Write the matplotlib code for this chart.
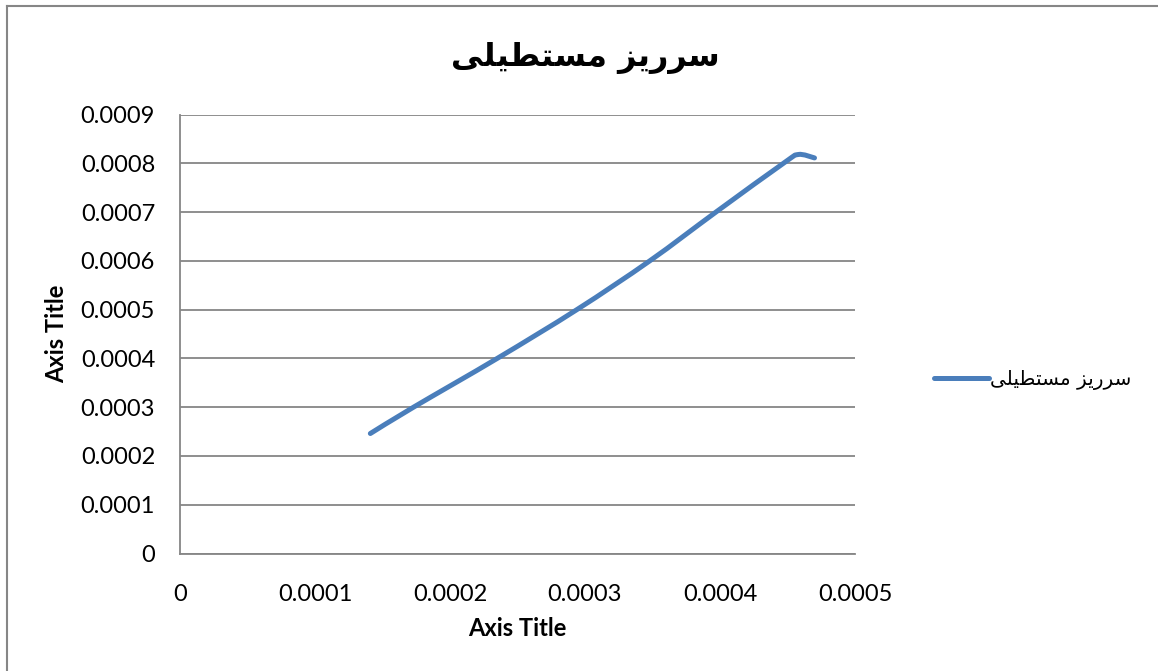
import matplotlib
matplotlib.use("Agg")
import matplotlib.pyplot as plt
from matplotlib.path import Path
from matplotlib.patches import PathPatch
from matplotlib.lines import Line2D
import numpy as np

# Series values (discharge relations for a rectangular weir)
x_vals = [0.000141, 0.000173, 0.000235, 0.000294, 0.000348, 0.000397, 0.000447, 0.000458, 0.000470]
y_vals = [0.000246, 0.000300, 0.000400, 0.000500, 0.000600, 0.000700, 0.000800, 0.000818, 0.000811]

x_ticks = [0, 0.0001, 0.0002, 0.0003, 0.0004, 0.0005]
x_tick_labels = ["0", "0.0001", "0.0002", "0.0003", "0.0004", "0.0005"]
y_ticks = [0, 0.0001, 0.0002, 0.0003, 0.0004, 0.0005, 0.0006, 0.0007, 0.0008, 0.0009]
y_tick_labels = ["0", "0.0001", "0.0002", "0.0003", "0.0004", "0.0005",
                 "0.0006", "0.0007", "0.0008", "0.0009"]

# "سرریز مستطیلی" written with Arabic presentation forms in visual order,
# since the text renderer does no shaping or bidi reordering.
series_name = "\uFEF0\uFEE0\uFEF4\uFEC4\uFE98\uFEB4\uFEE3 \uFEB0\uFEF3\uFEAD\uFEAE\uFEB3"

line_color = "#4A7EBB"
grid_color = "#868686"

W, H = 1158, 671
fig = plt.figure(figsize=(W / 100, H / 100), dpi=100)
fig.patch.set_facecolor("white")

ax = fig.add_axes([180 / W, 1 - 553.5 / H, 675 / W, 439 / H])
ax.set_xlim(0, 0.0005)
ax.set_ylim(0, 0.0009)

# Smoothed curve through the points (Catmull-Rom segments as cubic Beziers)
pts = np.column_stack([x_vals, y_vals])
verts = [tuple(pts[0])]
codes = [Path.MOVETO]
n = len(pts)
for i in range(n - 1):
    p0 = pts[i - 1] if i > 0 else pts[i]
    p1 = pts[i]
    p2 = pts[i + 1]
    p3 = pts[i + 2] if i + 2 < n else pts[i + 1]
    c1 = p1 + (p2 - p0) / 6.0
    c2 = p2 - (p3 - p1) / 6.0
    verts += [tuple(c1), tuple(c2), tuple(p2)]
    codes += [Path.CURVE4] * 3
curve = PathPatch(Path(verts, codes), facecolor="none", edgecolor=line_color,
                  linewidth=3.6, capstyle="round", joinstyle="round", zorder=3)
ax.add_patch(curve)

# Gridlines and axes
ax.set_xticks(x_ticks)
ax.set_xticklabels(x_tick_labels)
ax.set_yticks(y_ticks)
ax.set_yticklabels(y_tick_labels)
ax.yaxis.grid(True, color=grid_color, linewidth=1.3)
ax.xaxis.grid(False)
ax.set_axisbelow(True)
for side in ("top", "right"):
    ax.spines[side].set_visible(False)
for side in ("left", "bottom"):
    ax.spines[side].set_color(grid_color)
    ax.spines[side].set_linewidth(1.3)
ax.tick_params(axis="both", length=0, labelsize=17, colors="black")
ax.tick_params(axis="y", pad=18)
ax.tick_params(axis="x", pad=22)
for lab in ax.get_xticklabels() + ax.get_yticklabels():
    lab.set_fontfamily("Lato")

ax.set_xlabel("Axis Title", fontfamily="Lato", fontweight="bold", fontsize=17,
              va="center", ha="center")
ax.xaxis.set_label_coords((517 - 180) / 675, (553.5 - 628) / 439)
ax.set_ylabel("Axis Title", fontfamily="Lato", fontweight="bold", fontsize=17,
              va="center", ha="center")
ax.yaxis.set_label_coords((57 - 180) / 675, 0.5)

# Chart title
fig.text(585 / W, 1 - 58 / H, series_name, fontsize=23, fontweight="bold",
         fontfamily="DejaVu Sans", ha="center", va="center")

# Legend
handle = Line2D([], [], color=line_color, linewidth=3.6, solid_capstyle="round")
leg = ax.legend([handle], [series_name], loc="center left",
                bbox_to_anchor=(916 / W, 1 - 380 / H), bbox_transform=fig.transFigure,
                frameon=False, handlelength=2.8, handletextpad=0.05,
                prop={"family": "DejaVu Sans", "size": 14.3})

# Chart area border (top and left edges)
fig.add_artist(Line2D([7 / W, 7 / W], [0, 1 - 6 / H], transform=fig.transFigure,
                      color=grid_color, linewidth=1.5))
fig.add_artist(Line2D([7 / W, 1], [1 - 6 / H, 1 - 6 / H], transform=fig.transFigure,
                      color=grid_color, linewidth=1.5))

fig.savefig("out.png", dpi=100)
